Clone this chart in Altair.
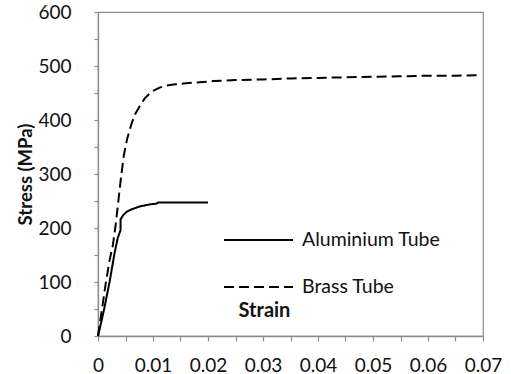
import altair as alt
import pandas as pd

# Aluminium tube stress-strain readings
al_strain = [0.0, 0.0006, 0.0012, 0.0021, 0.0030, 0.0036, 0.0041, 0.0041, 0.0046,
             0.0052, 0.0060, 0.0068, 0.0076, 0.0086, 0.0096, 0.0106, 0.0109, 0.0130,
             0.0150, 0.0170, 0.0190, 0.0200]
al_stress = [0, 26, 54, 100, 153, 182, 196, 216, 224, 230, 234, 237, 240, 242, 244,
             245, 247, 247, 247, 247, 247, 247]

# Brass tube stress-strain readings
br_strain = [0.0, 0.0007, 0.0014, 0.0021, 0.0027, 0.0032, 0.0037, 0.0042, 0.0047,
             0.0053, 0.0060, 0.0067, 0.0076, 0.0085, 0.0094, 0.0102, 0.0112, 0.0125,
             0.0140, 0.0160, 0.0185, 0.0210, 0.0250, 0.0300, 0.0350, 0.0400, 0.0450,
             0.0500, 0.0550, 0.0600, 0.0650, 0.0695]
br_stress = [0, 48, 97, 140, 168, 205, 250, 295, 335, 365, 390, 410, 426, 440, 449,
             455, 460, 464, 466, 468, 470, 472, 474, 475, 477, 478, 479, 480, 481,
             482, 482, 483]

series_names = ["Aluminium Tube", "Brass Tube"]

rows = []
for name, xs, ys in [(series_names[0], al_strain, al_stress),
                     (series_names[1], br_strain, br_stress)]:
    for i, (x, y) in enumerate(zip(xs, ys)):
        rows.append({"series": name, "idx": i, "strain": x, "stress": y})
df = pd.DataFrame(rows)

font = "Lato"
grey = "#8c8c8c"

x_ticks = [round(i * 0.005, 3) for i in range(15)]
y_ticks = list(range(0, 601, 50))

chart = alt.Chart(df).mark_line(color="black", strokeWidth=2).encode(
    x=alt.X("strain:Q",
            scale=alt.Scale(domain=[0, 0.07], nice=False, zero=True),
            axis=alt.Axis(
                title="Strain", values=x_ticks, grid=False,
                labelExpr="abs(datum.value*200 - round(datum.value*100)*2) < 0.01 ? format(datum.value, '.2~f') : ''",
                tickSize=5, labelPadding=15, labelFlush=False,
                titleX=166, titleY=-26, titleAlign="center", titleBaseline="middle",
                titleFontWeight="bold", titleFontSize=20)),
    y=alt.Y("stress:Q",
            scale=alt.Scale(domain=[0, 600], nice=False),
            axis=alt.Axis(
                title="Stress (MPa)", values=y_ticks, grid=False,
                labelExpr="datum.value % 100 == 0 ? datum.label : ''",
                tickSize=4, labelPadding=23,
                titleX=-73, titleY=162, titleAngle=270, titleAlign="center",
                titleBaseline="middle", titleFontWeight="bold", titleFontSize=18.5)),
    strokeDash=alt.StrokeDash(
        "series:N",
        scale=alt.Scale(domain=series_names, range=[[1, 0], [10, 5]]),
        legend=alt.Legend(
            title=None, orient="none", legendX=125, legendY=218,
            symbolType="stroke", symbolSize=4761, symbolStrokeWidth=2,
            symbolStrokeColor="black", clipHeight=20, rowPadding=27,
            labelOffset=8, padding=0, labelFont=font, labelFontSize=19.5,
            labelColor="#111")),
    order="idx:Q",
    detail="series:N",
).properties(
    width=385, height=324,
    background="white",
    autosize=alt.AutoSizeParams(type="none"),
    padding={"left": 98, "top": 12, "right": 28, "bottom": 38},
).configure_view(
    stroke=grey, strokeWidth=1.2
).configure_axis(
    domainColor=grey, domainWidth=1.3, tickColor=grey, tickWidth=1.2,
    labelFont=font, labelFontSize=19, labelColor="#111",
    titleFont=font, titleColor="#111",
)

chart.save("out.html", embed_options={"renderer": "svg", "actions": False})
